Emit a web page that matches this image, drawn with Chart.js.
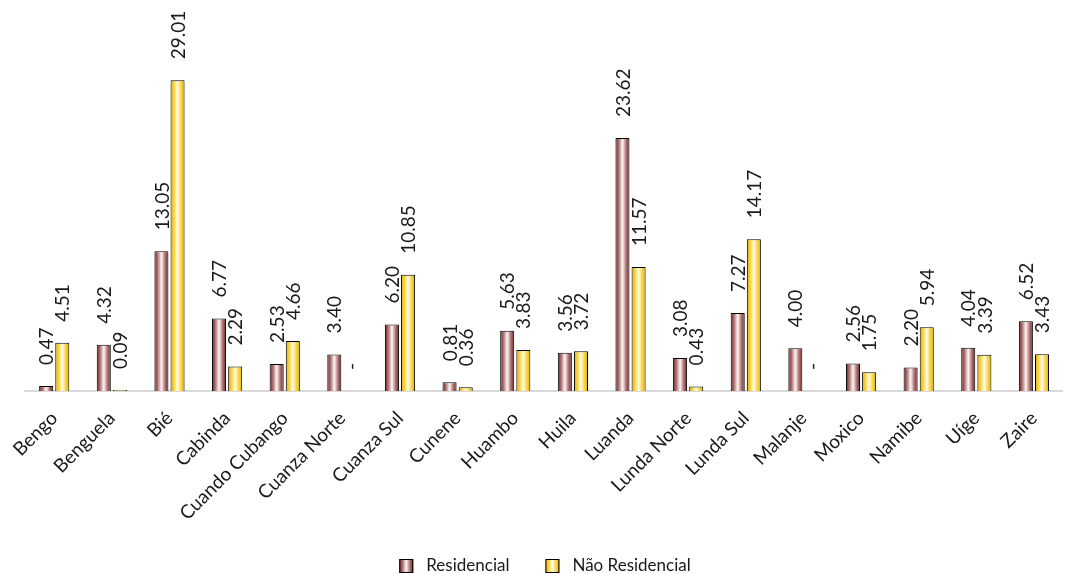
<!DOCTYPE html>
<html>
<head>
<meta charset="utf-8">
<script src="https://cdn.jsdelivr.net/npm/chart.js@4.4.1/dist/chart.umd.min.js"></script>
<style>
  html, body { margin: 0; padding: 0; background: #fff; }
  #wrap { width: 1066px; height: 574px; }
</style>
</head>
<body>
<div id="wrap"><canvas id="chart" width="1066" height="574"></canvas></div>
<script>
const provinces = ['Bengo', 'Benguela', 'Bié', 'Cabinda', 'Cuando Cubango', 'Cuanza Norte', 'Cuanza Sul',
    'Cunene', 'Huambo', 'Huila', 'Luanda', 'Lunda Norte', 'Lunda Sul', 'Malanje', 'Moxico', 'Namibe', 'Uíge', 'Zaire'];
const residencial = [0.47, 4.32, 13.05, 6.77, 2.53, 3.40, 6.20, 0.81, 5.63, 3.56, 23.62, 3.08, 7.27, 4.00, 2.56, 2.20, 4.04, 6.52];
const naoResidencial = [4.51, 0.09, 29.01, 2.29, 4.66, 0, 10.85, 0.36, 3.83, 3.72, 11.57, 0.43, 14.17, 0, 1.75, 5.94, 3.39, 3.43];
const seriesNames = ['Residencial', 'Não Residencial'];

const FONT = 'Lato, "Open Sans", sans-serif';
const gradStops = [
    [[0, '#6b2a2a'], [0.22, '#a86a6a'], [0.5, '#fff6f6'], [0.78, '#a86a6a'], [1, '#6b2a2a']],
    [[0, '#e3ad00'], [0.25, '#f7d548'], [0.5, '#fffbe4'], [0.75, '#f7d548'], [1, '#e3ad00']]
];

function makeGrad(ctx, x0, x1, i) {
    const g = ctx.createLinearGradient(x0, 0, x1, 0);
    gradStops[i].forEach(s => g.addColorStop(s[0], s[1]));
    return g;
}

// gradient fill per bar, computed once positions are known
const barGradients = {
    id: 'barGradients',
    beforeDatasetsDraw(chart) {
        const ctx = chart.ctx;
        chart.data.datasets.forEach((ds, i) => {
            chart.getDatasetMeta(i).data.forEach(bar => {
                bar.options = Object.assign({}, bar.options, {
                    backgroundColor: makeGrad(ctx, bar.x - bar.width / 2, bar.x + bar.width / 2, i)
                });
            });
        });
    }
};

// rotated value labels above each bar
const valueLabels = {
    id: 'valueLabels',
    afterDatasetsDraw(chart) {
        const ctx = chart.ctx;
        ctx.save();
        ctx.font = '19px ' + FONT;
        ctx.fillStyle = '#1a1a1a';
        ctx.textAlign = 'left';
        ctx.textBaseline = 'middle';
        chart.data.datasets.forEach((ds, i) => {
            chart.getDatasetMeta(i).data.forEach((bar, j) => {
                const v = ds.data[j];
                const txt = v === 0 ? '-' : v.toFixed(2);
                ctx.save();
                ctx.translate(bar.x + 1, bar.y - 21);
                ctx.rotate(-Math.PI / 2);
                ctx.fillText(txt, 0, 0);
                ctx.restore();
            });
        });
        ctx.restore();
    }
};

// legend at the bottom with gradient boxes
const bottomLegend = {
    id: 'bottomLegend',
    afterDraw(chart) {
        const ctx = chart.ctx;
        ctx.save();
        ctx.font = '17px ' + FONT;
        const box = 14, gapText = 13, gapItem = 36;
        const widths = seriesNames.map(n => ctx.measureText(n).width);
        const total = widths.reduce((a, w) => a + box + gapText + w, 0) + gapItem * (seriesNames.length - 1);
        let x = 545 - total / 2;
        const cy = 566;
        seriesNames.forEach((n, i) => {
            ctx.fillStyle = makeGrad(ctx, x, x + box, i);
            ctx.fillRect(x, cy - box / 2, box, box);
            ctx.strokeStyle = '#000';
            ctx.lineWidth = 1;
            ctx.strokeRect(x + 0.5, cy - box / 2 + 0.5, box - 1, box - 1);
            ctx.fillStyle = '#1a1a1a';
            ctx.textAlign = 'left';
            ctx.textBaseline = 'middle';
            ctx.fillText(n, x + box + gapText, cy);
            x += box + gapText + widths[i] + gapItem;
        });
        ctx.restore();
    }
};

new Chart(document.getElementById('chart').getContext('2d'), {
    type: 'bar',
    data: {
        labels: provinces,
        datasets: [{
            label: seriesNames[0],
            data: residencial,
            backgroundColor: '#a86a6a',
            borderColor: '#000',
            borderWidth: 1
        }, {
            label: seriesNames[1],
            data: naoResidencial,
            backgroundColor: '#f7d548',
            borderColor: '#000',
            borderWidth: 1
        }]
    },
    options: {
        responsive: false,
        animation: false,
        categoryPercentage: 0.56,
        barPercentage: 0.87,
        layout: { padding: { left: 23, right: 0, top: 0, bottom: 0 } },
        scales: {
            x: {
                grid: { display: false, drawTicks: false },
                border: { display: true, color: '#d9d9d9', width: 2 },
                ticks: {
                    minRotation: 45,
                    maxRotation: 45,
                    padding: 16,
                    color: '#1a1a1a',
                    font: { family: FONT, size: 19 }
                },
                afterFit(scale) { scale.height = 183; }
            },
            y: {
                display: false,
                min: 0,
                max: 36.5
            }
        },
        plugins: {
            legend: { display: false },
            tooltip: { enabled: false }
        }
    },
    plugins: [barGradients, valueLabels, bottomLegend]
});
</script>
</body>
</html>
